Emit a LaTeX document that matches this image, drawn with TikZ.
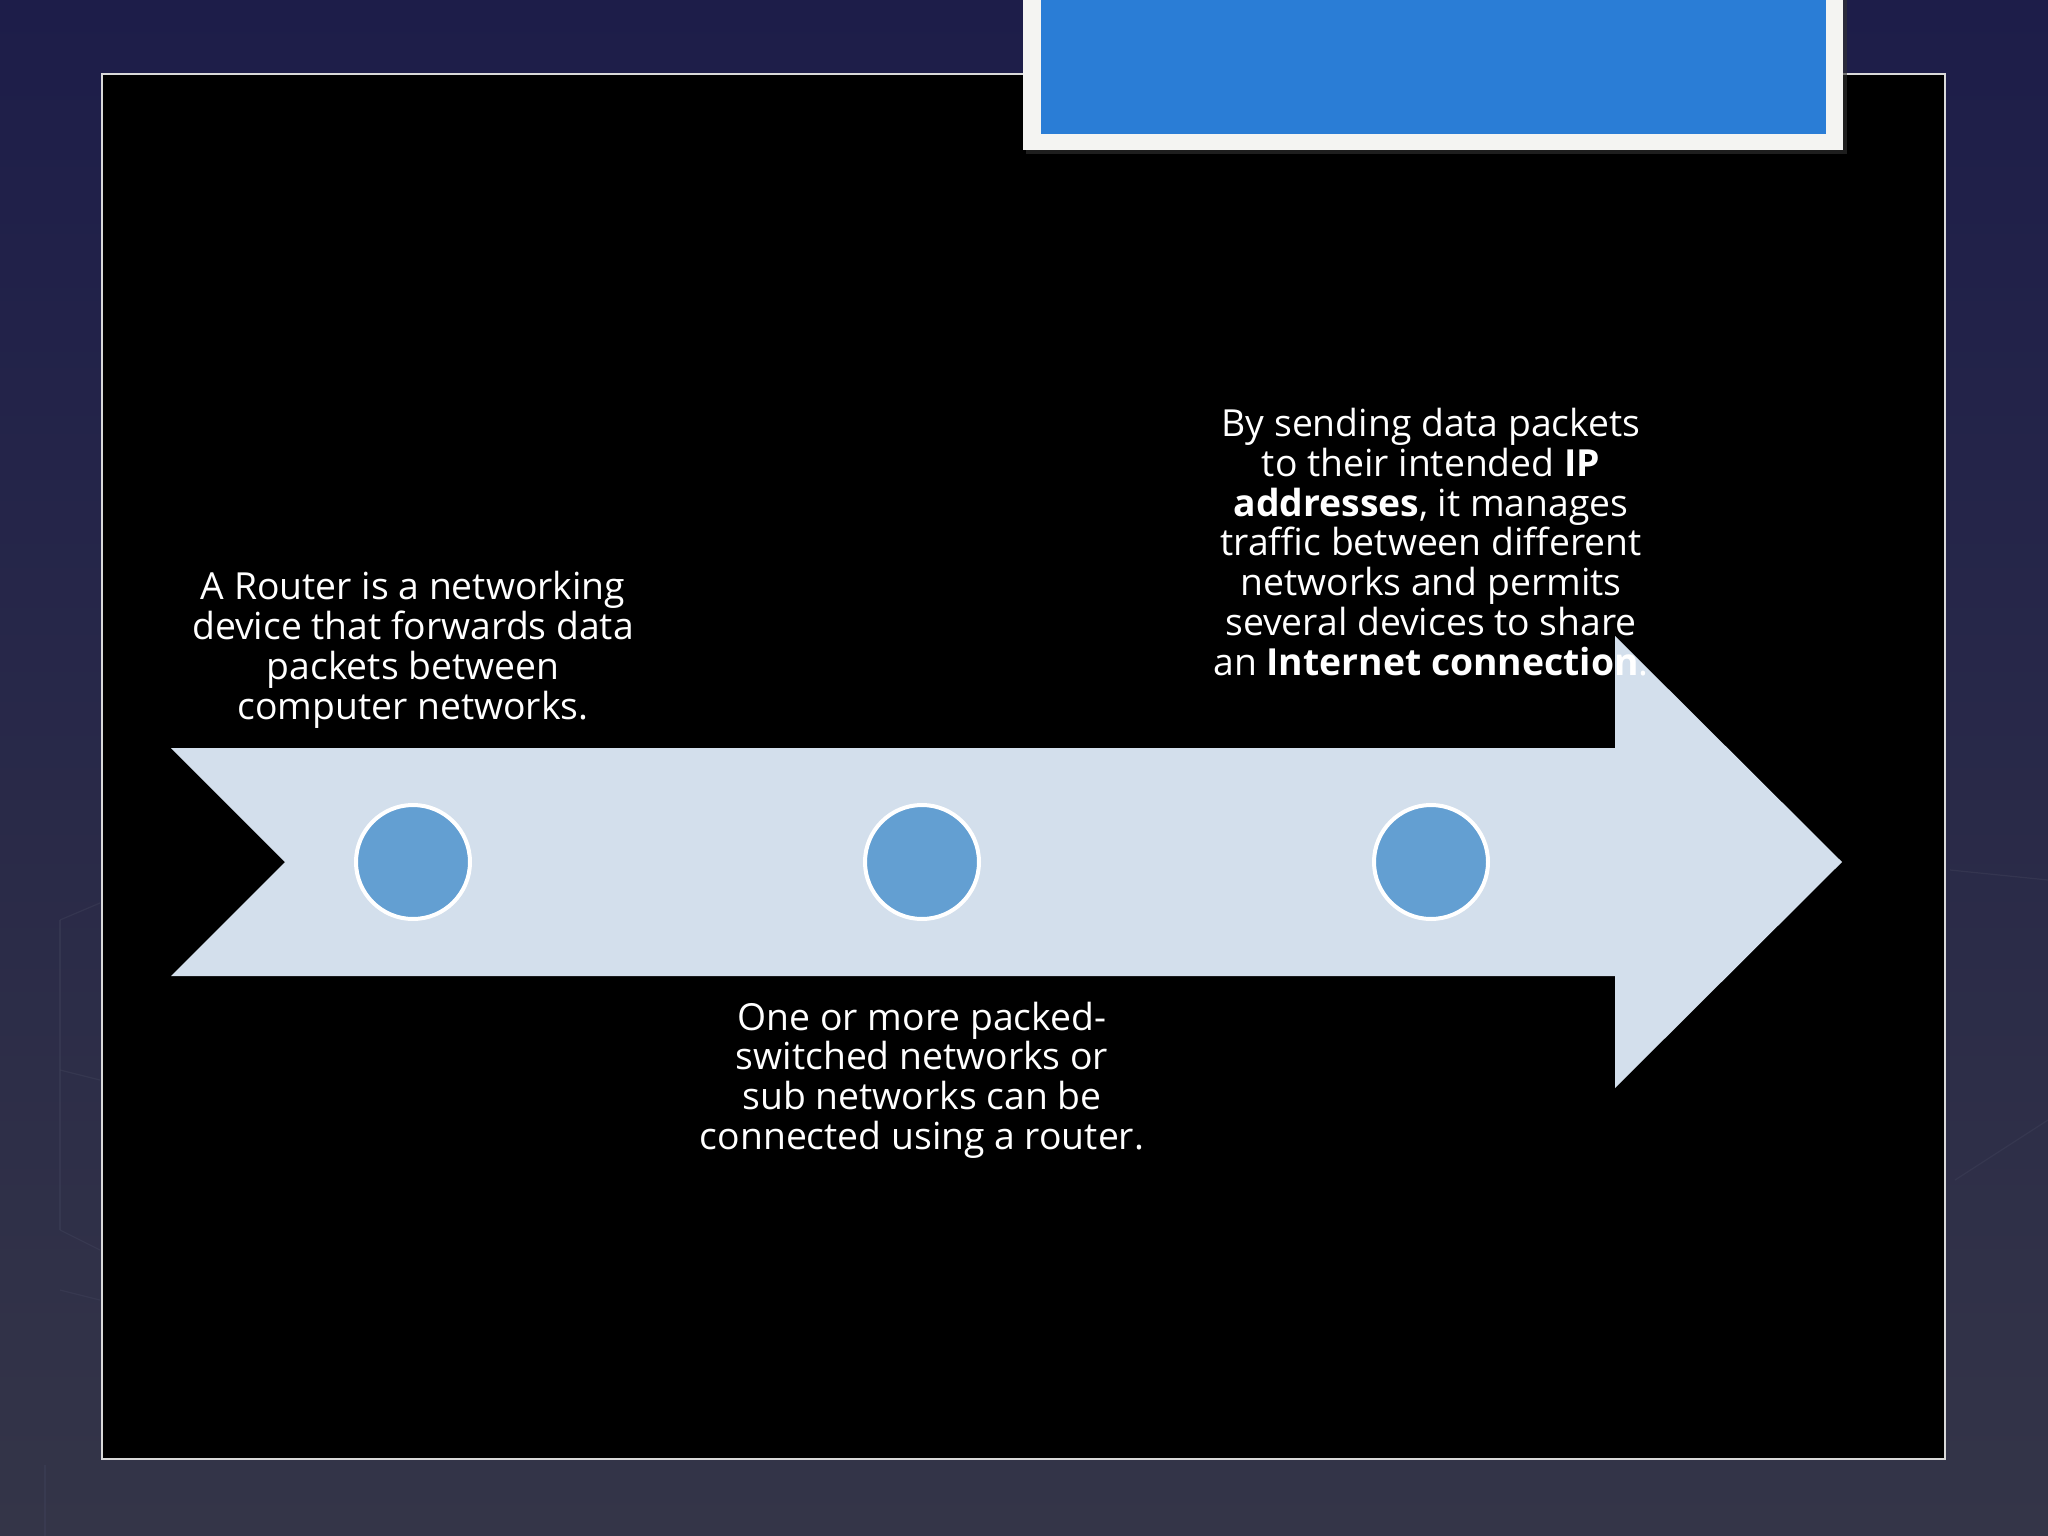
\documentclass[tikz,border=0pt]{standalone}
\usepackage{fontspec}
\setmainfont{Open Sans}
\definecolor{bgtop}{RGB}{29,29,73}
\definecolor{bgbot}{RGB}{52,53,72}
\definecolor{arrowfill}{RGB}{211,223,236}
\definecolor{dotfill}{RGB}{99,159,210}
\definecolor{titleblue}{RGB}{42,125,214}
\definecolor{titleframe}{RGB}{244,244,242}
\definecolor{faint}{RGB}{62,64,88}
\tikzset{
  dot/.style={circle, fill=dotfill, draw=white, line width=4pt, minimum size=114pt, inner sep=0pt},
  txt/.style={text=white, align=center, font=\fontsize{37.3}{39.8}\selectfont, inner sep=0pt},
}
\begin{document}
\begin{tikzpicture}[x=1pt,y=-1pt]
\useasboundingbox (0,0) rectangle (2048,1536);
% background
\shade[top color=bgtop, bottom color=bgbot] (0,0) rectangle (2048,1536);
% faint background wireframes
\begin{scope}[draw=faint, line width=1.2pt, opacity=0.5]
  \draw (60,920) -- (100,903);
  \draw (60,920) -- (60,1230);
  \draw (60,1230) -- (100,1250);
  \draw (60,1070) -- (100,1080);
  \draw (60,1290) -- (100,1300);
  \draw (45,1620) -- (45,1465);
  \draw (1950,870) -- (2048,880);
  \draw (1955,1180) -- (2048,1120);
\end{scope}
% main black panel
\draw[fill=black, draw=white!85!black, line width=1.6pt] (102,74) rectangle (1945,1459);
% title box
\fill[black!80, opacity=0.6] (1026,-5) rectangle (1847,154);
\fill[titleframe] (1023,-5) rectangle (1843,150);
\fill[titleblue] (1041,-5) rectangle (1826,134);
% arrow
\fill[arrowfill] (171,748) -- (1615,748) -- (1615,636) -- (1842,862) -- (1615,1088) -- (1615,976) -- (171,976) -- (285,862) -- cycle;
% dots
\node[dot] (c1) at (413,862) {};
\node[dot] (c2) at (922,862) {};
\node[dot] (c3) at (1431,862) {};
% texts
\node[txt] (t1) at (413,650) {A Router is a networking\\device that forwards data\\packets between\\computer networks.};
\node[txt] (t2) at (922,1080) {One or more packed-\\switched networks or\\sub networks can be\\connected using a router.};
\node[txt] (t3) at (1431,542) {By sending data packets\\to their intended \textbf{IP}\\\textbf{addresses}, it manages\\traffic between different\\networks and permits\\several devices to share\\an \textbf{Internet connection}.};
\end{tikzpicture}
\end{document}
